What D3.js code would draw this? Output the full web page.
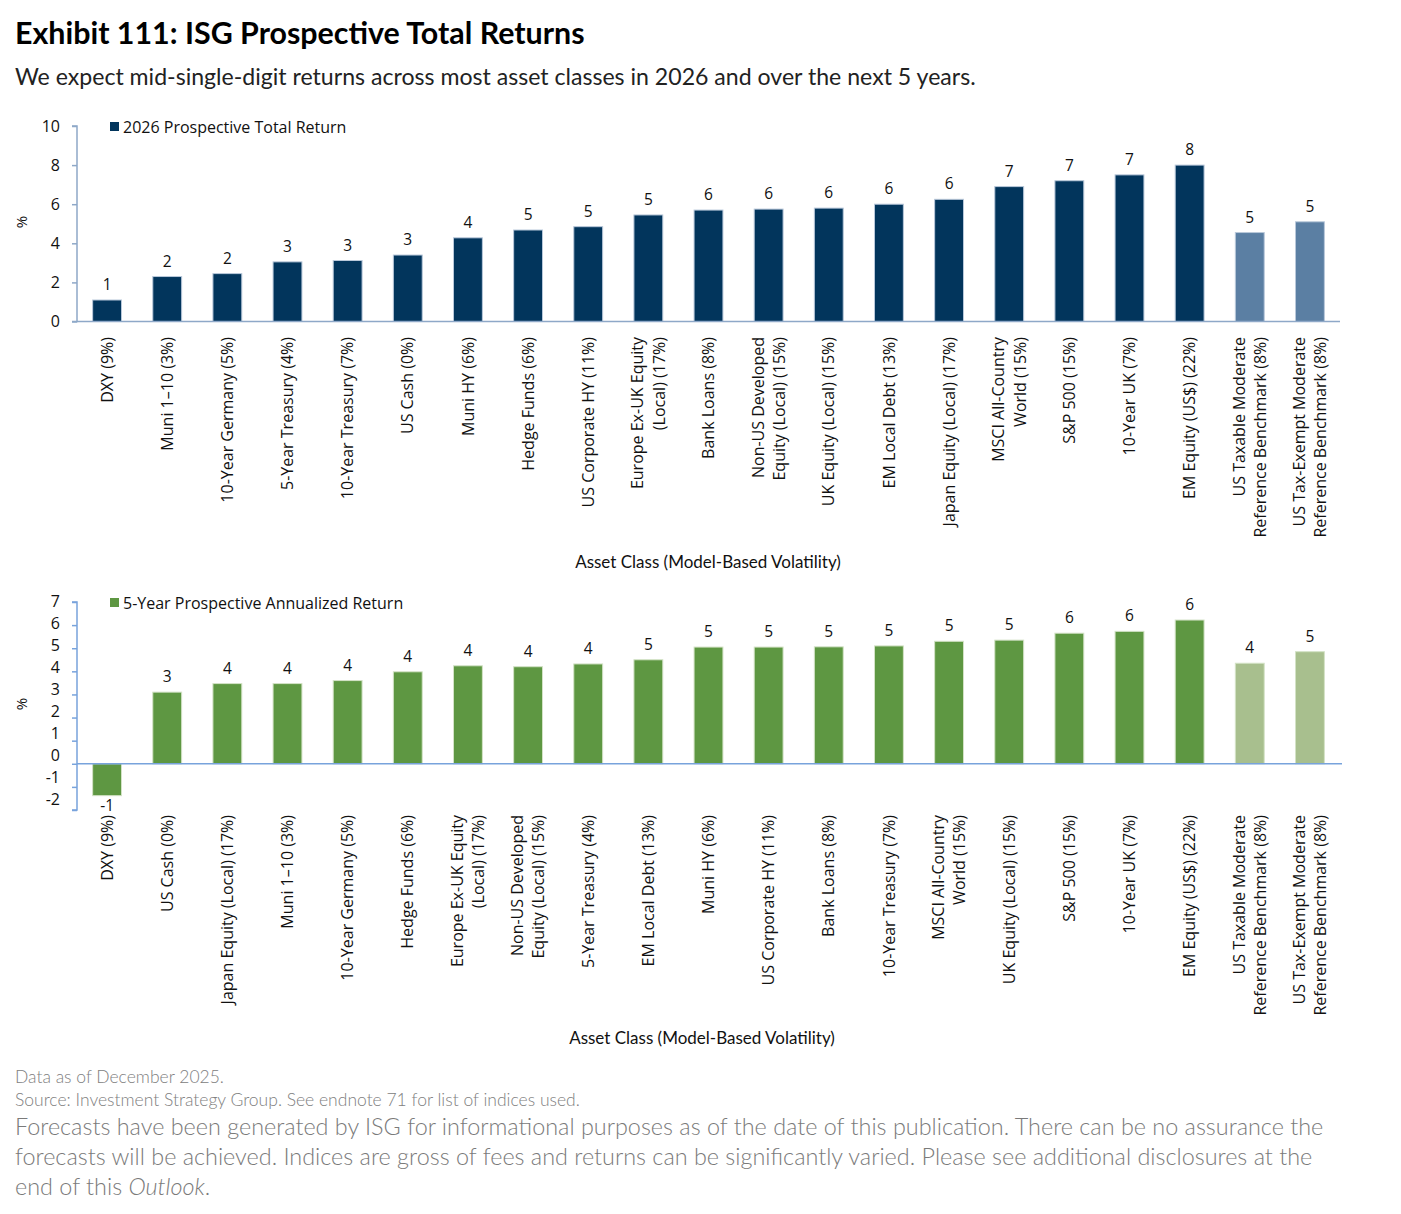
<!DOCTYPE html>
<html>
<head>
<meta charset="utf-8">
<script src="https://cdn.jsdelivr.net/npm/d3@7/dist/d3.min.js"></script>
<style>
  html, body { margin: 0; padding: 0; background: #fff; }
  svg { display: block; }
</style>
</head>
<body>
<svg id="chart" width="1401" height="1214"></svg>
<script>
// ---------------- DATA ----------------
const topCategories = [
  ["DXY (9%)"], ["Muni 1–10 (3%)"], ["10-Year Germany (5%)"], ["5-Year Treasury (4%)"],
  ["10-Year Treasury (7%)"], ["US Cash (0%)"], ["Muni HY (6%)"], ["Hedge Funds (6%)"],
  ["US Corporate HY (11%)"], ["Europe Ex-UK Equity", "(Local) (17%)"], ["Bank Loans (8%)"],
  ["Non-US Developed", "Equity (Local) (15%)"], ["UK Equity (Local) (15%)"], ["EM Local Debt (13%)"],
  ["Japan Equity (Local) (17%)"], ["MSCI All-Country", "World (15%)"], ["S&P 500 (15%)"],
  ["10-Year UK (7%)"], ["EM Equity (US$) (22%)"],
  ["US Taxable Moderate", "Reference Benchmark (8%)"], ["US Tax-Exempt Moderate", "Reference Benchmark (8%)"]
];
const topValues = [1.1, 2.3, 2.45, 3.05, 3.12, 3.4, 4.28, 4.68, 4.85, 5.45, 5.7, 5.75, 5.8, 6.0, 6.25,
  6.9, 7.2, 7.5, 8.0, 4.55, 5.1];
const topBenchmark = [false, false, false, false, false, false, false, false, false, false, false,
  false, false, false, false, false, false, false, false, true, true];
const topLabels = ["1", "2", "2", "3", "3", "3", "4", "5", "5", "5", "6", "6", "6", "6", "6", "7", "7", "7", "8", "5", "5"];
const topTicks = [0, 2, 4, 6, 8, 10];

const botCategories = [
  ["DXY (9%)"], ["US Cash (0%)"], ["Japan Equity (Local) (17%)"], ["Muni 1–10 (3%)"],
  ["10-Year Germany (5%)"], ["Hedge Funds (6%)"], ["Europe Ex-UK Equity", "(Local) (17%)"],
  ["Non-US Developed", "Equity (Local) (15%)"], ["5-Year Treasury (4%)"], ["EM Local Debt (13%)"],
  ["Muni HY (6%)"], ["US Corporate HY (11%)"], ["Bank Loans (8%)"], ["10-Year Treasury (7%)"],
  ["MSCI All-Country", "World (15%)"], ["UK Equity (Local) (15%)"], ["S&P 500 (15%)"],
  ["10-Year UK (7%)"], ["EM Equity (US$) (22%)"],
  ["US Taxable Moderate", "Reference Benchmark (8%)"], ["US Tax-Exempt Moderate", "Reference Benchmark (8%)"]
];
const botValues = [-1.38, 3.1, 3.47, 3.47, 3.6, 3.98, 4.24, 4.2, 4.32, 4.5, 5.05, 5.05, 5.06, 5.1,
  5.3, 5.35, 5.65, 5.73, 6.22, 4.35, 4.85];
const botBenchmark = topBenchmark;
const botLabels = ["-1", "3", "4", "4", "4", "4", "4", "4", "4", "5", "5", "5", "5", "5", "5", "5", "6", "6", "6", "4", "5"];
const botTicks = [-2, -1, 0, 1, 2, 3, 4, 5, 6, 7];

const titleText = "Exhibit 111: ISG Prospective Total Returns";
const subtitleText = "We expect mid-single-digit returns across most asset classes in 2026 and over the next 5 years.";
const topLegend = "2026 Prospective Total Return";
const botLegend = "5-Year Prospective Annualized Return";
const xTitle = "Asset Class (Model-Based Volatility)";
const noteLines = ["Data as of December 2025.", "Source: Investment Strategy Group. See endnote 71 for list of indices used."];
const disclaimer = [
  "Forecasts have been generated by ISG for informational purposes as of the date of this publication. There can be no assurance the",
  "forecasts will be achieved. Indices are gross of fees and returns can be significantly varied. Please see additional disclosures at the"
];

// ---------------- STYLE ----------------
const LABEL_FONT = "'Open Sans', 'Noto Sans', sans-serif";
const HEAD_FONT = "Lato, 'Open Sans', sans-serif";
const svg = d3.select("#chart");

// Title and subtitle
svg.append("text").attr("x", 15).attr("y", 44)
  .style("font-family", HEAD_FONT).style("font-weight", 700).style("font-size", "30.4px")
  .attr("fill", "#000").text(titleText);
svg.append("text").attr("x", 15).attr("y", 85)
  .style("font-family", HEAD_FONT).style("font-size", "23.1px")
  .attr("fill", "#222").text(subtitleText);

function drawPanel(opts) {
  const g = svg.append("g");
  const x = d3.scaleBand().domain(d3.range(opts.cats.length))
    .range([77, 1340]).paddingInner(0.52).paddingOuter(0.26);
  const y = d3.scaleLinear().domain(opts.domain).range(opts.range);

  // bars
  g.selectAll("rect.bar").data(opts.values).enter().append("rect")
    .attr("class", "bar")
    .attr("x", (d, i) => x(i))
    .attr("width", x.bandwidth())
    .attr("y", d => Math.min(y(d), y(0)))
    .attr("height", d => Math.abs(y(d) - y(0)))
    .attr("fill", (d, i) => opts.bench[i] ? opts.light : opts.dark)
    .attr("stroke", opts.edge).attr("stroke-width", 1);

  // y axis
  const yAxis = d3.axisLeft(y).tickValues(opts.ticks).tickSize(5).tickFormat("");
  const ya = g.append("g").attr("transform", "translate(77,0)").call(yAxis);
  ya.select(".domain").attr("stroke", opts.axis).attr("stroke-width", 1.5)
    .attr("d", `M-5,${y(opts.domain[1])}H0V${y(opts.domain[0])}H-5`);
  ya.selectAll(".tick line").attr("stroke", opts.axis).attr("stroke-width", 1.5);

  // y tick labels (placed with their own label scale)
  const yl = d3.scaleLinear().domain(opts.domain).range(opts.labelRange);
  g.selectAll("text.ytl").data(opts.ticks).enter().append("text")
    .attr("class", "ytl")
    .attr("x", 60).attr("y", d => yl(d)).attr("dy", "0.35em")
    .attr("text-anchor", "end")
    .style("font-family", LABEL_FONT).style("font-size", "16px").attr("fill", "#111")
    .text(d => d);

  // x baseline at zero
  g.append("line").attr("x1", 77).attr("x2", opts.xEnd)
    .attr("y1", y(0)).attr("y2", y(0))
    .attr("stroke", opts.axis).attr("stroke-width", 1.5);

  // value labels
  g.selectAll("text.val").data(opts.values).enter().append("text")
    .attr("class", "val")
    .attr("x", (d, i) => x(i) + x.bandwidth() / 2)
    .attr("y", d => d >= 0 ? y(d) - 10 : y(d) + 15)
    .attr("text-anchor", "middle")
    .style("font-family", LABEL_FONT).style("font-size", "15.5px").attr("fill", "#111")
    .text((d, i) => opts.labels[i]);

  // category labels
  const cl = g.selectAll("text.cat").data(opts.cats).enter().append("text")
    .attr("class", "cat")
    .attr("transform", (d, i) => `translate(${x(i) + x.bandwidth() / 2},${opts.catTop}) rotate(-90)`)
    .attr("text-anchor", "end")
    .style("font-family", LABEL_FONT).style("font-size", "16px").attr("fill", "#111");
  cl.each(function(lines) {
    const t = d3.select(this);
    const n = lines.length;
    lines.forEach((ln, k) => {
      t.append("tspan").attr("x", 0)
        .attr("y", (k - (n - 1) / 2) * 21.5)
        .attr("dy", "0.35em").text(ln);
    });
  });

  // legend
  g.append("rect").attr("x", 110).attr("y", opts.legendY - 5).attr("width", 9).attr("height", 9)
    .attr("fill", opts.dark);
  g.append("text").attr("x", 123).attr("y", opts.legendY).attr("dy", "0.35em")
    .style("font-family", LABEL_FONT).style("font-size", "16px").attr("fill", "#111")
    .text(opts.legend);

  // y axis title
  g.append("text").attr("transform", `translate(27,${opts.pctY}) rotate(-90)`)
    .attr("text-anchor", "middle")
    .style("font-family", LABEL_FONT).style("font-size", "15px").attr("fill", "#111").text("%");

  // x axis title
  g.append("text").attr("x", opts.xTitleX).attr("y", opts.xTitleY).attr("dy", "0.35em")
    .attr("text-anchor", "middle")
    .style("font-family", HEAD_FONT).style("font-size", "17px").attr("fill", "#111").text(xTitle);
}

drawPanel({
  cats: topCategories, values: topValues, bench: topBenchmark, labels: topLabels, ticks: topTicks,
  domain: [0, 10], range: [321.5, 126], labelRange: [321.5, 126],
  dark: "#02355c", light: "#5b7fa3", edge: "#b9c8da", axis: "#8ea8c8", xEnd: 1340,
  catTop: 337, legendY: 127, legend: topLegend, pctY: 222, xTitleX: 708, xTitleY: 562
});

drawPanel({
  cats: botCategories, values: botValues, bench: botBenchmark, labels: botLabels, ticks: botTicks,
  domain: [-2, 7], range: [810, 602], labelRange: [799, 601],
  dark: "#5e9742", light: "#a8bf8e", edge: "#d3e2c6", axis: "#78a3dc", xEnd: 1342,
  catTop: 815, legendY: 603, legend: botLegend, pctY: 704, xTitleX: 702, xTitleY: 1038
});

// footnotes
noteLines.forEach((t, i) => {
  svg.append("text").attr("x", 15).attr("y", 1083 + i * 23)
    .style("font-family", HEAD_FONT).style("font-weight", 300).style("font-size", "17.5px")
    .attr("fill", "#808080").text(t);
});
const disc = svg.append("g");
disclaimer.forEach((t, i) => {
  disc.append("text").attr("x", 15).attr("y", 1135 + i * 30)
    .style("font-family", HEAD_FONT).style("font-weight", 300).style("font-size", "23.4px")
    .attr("fill", "#7a7a7a").text(t);
});
const last = disc.append("text").attr("x", 15).attr("y", 1195)
  .style("font-family", HEAD_FONT).style("font-weight", 300).style("font-size", "23.4px")
  .attr("fill", "#7a7a7a");
last.append("tspan").text("end of this ");
last.append("tspan").style("font-style", "italic").text("Outlook");
last.append("tspan").text(".");
</script>
</body>
</html>
